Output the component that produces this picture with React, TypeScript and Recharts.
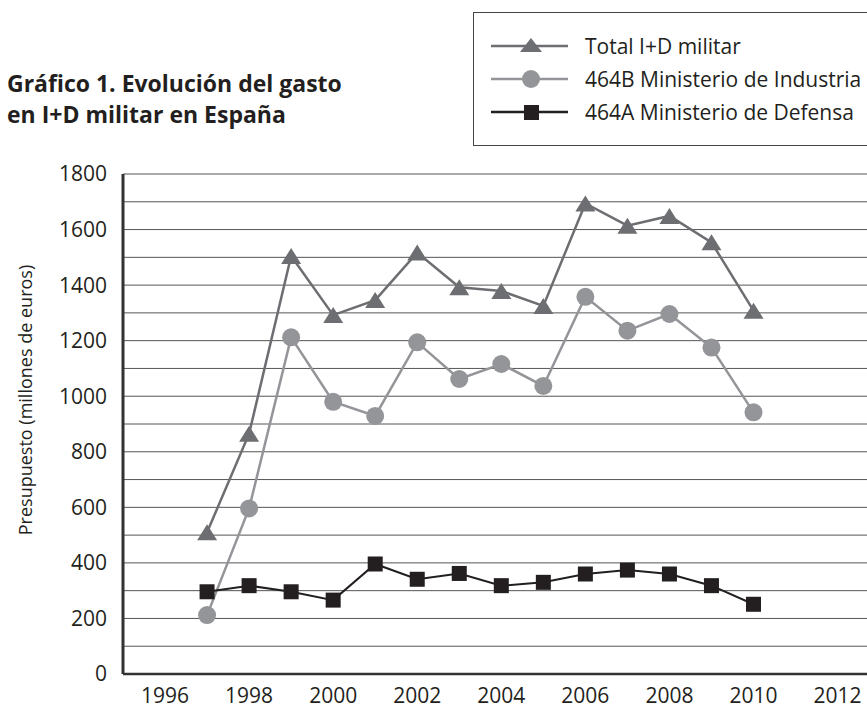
import React from 'react';
import { LineChart, Line, XAxis, YAxis, CartesianGrid } from 'recharts';

const years = [1997, 1998, 1999, 2000, 2001, 2002, 2003, 2004, 2005, 2006, 2007, 2008, 2009, 2010];
const totalID = [510, 865, 1505, 1292, 1346, 1517, 1392, 1379, 1325, 1694, 1614, 1649, 1554, 1308];
const industria = [212, 596, 1212, 980, 929, 1194, 1062, 1116, 1037, 1358, 1236, 1296, 1175, 942];
const defensa = [296, 318, 296, 266, 396, 341, 362, 318, 330, 360, 374, 360, 318, 251];

const xTicks = [1996, 1998, 2000, 2002, 2004, 2006, 2008, 2010, 2012];
const yTicks = [0, 100, 200, 300, 400, 500, 600, 700, 800, 900, 1000, 1100, 1200, 1300, 1400, 1500, 1600, 1700, 1800];

const titleLines = ['Gráfico 1. Evolución del gasto', 'en I+D militar en España'];
const yLabel = 'Presupuesto (millones de euros)';
const legendLabels = ['Total I+D militar', '464B Ministerio de Industria', '464A Ministerio de Defensa'];

const C_TOTAL = '#6d6e71';
const C_IND = '#939598';
const C_DEF = '#231f20';
const FONT = "'Open Sans', 'Noto Sans', sans-serif";

const data = years.map((y, i) => ({
  year: y,
  total: totalID[i],
  industria: industria[i],
  defensa: defensa[i],
}));

const TriangleDot = (props: any) => {
  const { cx, cy, index } = props;
  if (cx == null || cy == null) return null;
  return (
    <polygon
      key={`tri-${index}`}
      points={`${cx},${cy - 8} ${cx - 10},${cy + 8} ${cx + 10},${cy + 8}`}
      fill={C_TOTAL}
    />
  );
};

const CircleDot = (props: any) => {
  const { cx, cy, index } = props;
  if (cx == null || cy == null) return null;
  return <circle key={`cir-${index}`} cx={cx} cy={cy} r={9} fill={C_IND} />;
};

const SquareDot = (props: any) => {
  const { cx, cy, index } = props;
  if (cx == null || cy == null) return null;
  return <rect key={`sq-${index}`} x={cx - 7.5} y={cy - 7.5} width={15} height={15} fill={C_DEF} />;
};

const LegendIcon = ({ kind }: { kind: number }) => {
  const color = kind === 0 ? C_TOTAL : kind === 1 ? C_IND : C_DEF;
  return (
    <svg width={78} height={22} style={{ display: 'block' }}>
      <line x1={0} y1={11} x2={77} y2={11} stroke={color} strokeWidth={2.5} />
      {kind === 0 && <polygon points="40,3 29,17 51,17" fill={color} />}
      {kind === 1 && <circle cx={40} cy={11} r={9} fill={color} />}
      {kind === 2 && <rect x={33} y={4} width={15} height={15} fill={color} />}
    </svg>
  );
};

export default function App() {
  return (
    <div style={{ position: 'absolute', left: 0, top: 0, width: 867, height: 711, background: '#fff', overflow: 'hidden' }}>
      <div
        style={{
          position: 'absolute',
          left: 7,
          top: 68,
          fontFamily: FONT,
          fontWeight: 700,
          fontSize: 23,
          lineHeight: '31px',
          color: '#231f20',
          whiteSpace: 'nowrap',
        }}
      >
        {titleLines.map((t) => (
          <div key={t}>{t}</div>
        ))}
      </div>

      <div
        style={{
          position: 'absolute',
          left: 473,
          top: 12,
          width: 420,
          height: 134,
          border: '1px solid #444',
          boxSizing: 'border-box',
        }}
      >
        {legendLabels.map((label, i) => (
          <div
            key={label}
            style={{
              position: 'absolute',
              left: 17,
              top: 22 + i * 33,
              height: 22,
              display: 'flex',
              alignItems: 'center',
              whiteSpace: 'nowrap',
            }}
          >
            <LegendIcon kind={i} />
            <span style={{ marginLeft: 16, fontFamily: FONT, fontSize: 21, color: '#231f20', lineHeight: '22px' }}>{label}</span>
          </div>
        ))}
      </div>

      <div
        style={{
          position: 'absolute',
          left: 25,
          top: 400,
          transform: 'translate(-50%, -50%) rotate(-90deg)',
          fontFamily: FONT,
          fontSize: 18,
          color: '#231f20',
          whiteSpace: 'nowrap',
        }}
      >
        {yLabel}
      </div>

      <div style={{ position: 'absolute', left: 0, top: 0 }}>
        <LineChart width={867} height={711} data={data} margin={{ top: 174, right: 0, bottom: 0, left: 0 }}>
          <CartesianGrid vertical={false} stroke="#555" strokeWidth={1} />
          <XAxis
            dataKey="year"
            type="number"
            domain={[1995, 2012.7]}
            ticks={xTicks}
            allowDataOverflow
            height={37}
            tickLine={false}
            tickSize={0}
            tickMargin={14}
            axisLine={{ stroke: '#333', strokeWidth: 2.5 }}
            tick={{ fontFamily: FONT, fontSize: 21, fill: '#231f20' }}
            interval={0}
          />
          <YAxis
            type="number"
            domain={[0, 1800]}
            ticks={yTicks}
            width={123}
            tickLine={false}
            tickSize={0}
            tickMargin={16}
            interval={0}
            axisLine={{ stroke: '#333', strokeWidth: 3 }}
            tick={{ fontFamily: FONT, fontSize: 21, fill: '#231f20' }}
            tickFormatter={(v: number) => (v % 200 === 0 ? String(v) : '')}
          />
          <Line
            type="linear"
            dataKey="total"
            stroke={C_TOTAL}
            strokeWidth={2.5}
            dot={TriangleDot}
            activeDot={false}
            isAnimationActive={false}
          />
          <Line
            type="linear"
            dataKey="industria"
            stroke={C_IND}
            strokeWidth={2.5}
            dot={CircleDot}
            activeDot={false}
            isAnimationActive={false}
          />
          <Line
            type="linear"
            dataKey="defensa"
            stroke={C_DEF}
            strokeWidth={2}
            dot={SquareDot}
            activeDot={false}
            isAnimationActive={false}
          />
        </LineChart>
      </div>
    </div>
  );
}
